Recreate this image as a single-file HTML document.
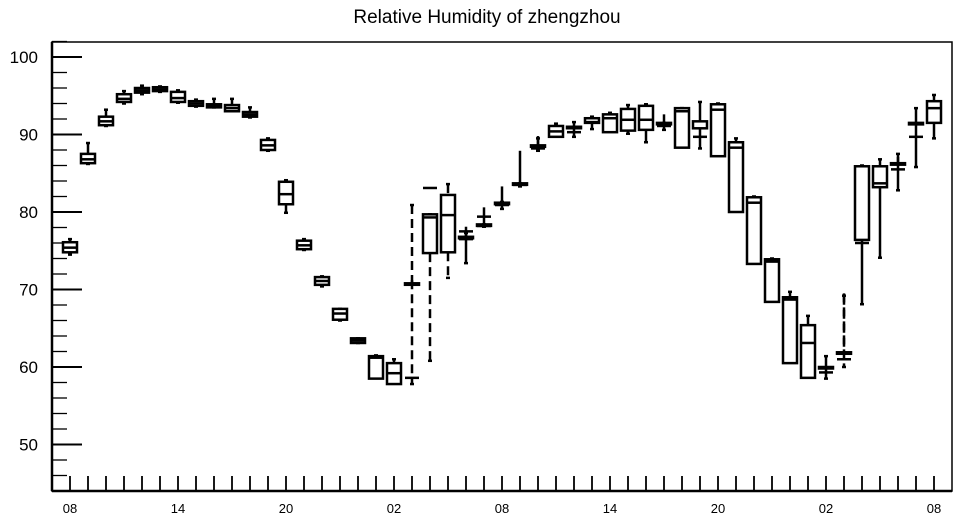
<!DOCTYPE html>
<html><head><meta charset="utf-8"><style>
html,body{margin:0;padding:0;background:#fff;}
svg text{font-family:"Liberation Sans",sans-serif;fill:#000;}
</style></head><body>
<svg id="chart" width="957" height="520" xmlns="http://www.w3.org/2000/svg">
<text x="487" y="23" font-size="19" text-anchor="middle">Relative Humidity of zhengzhou</text>
<g id="axes"></g>
<g id="boxes"></g>
</svg>
<script>
const hourLabels = ["08","14","20","02","08","14","20","02","08"];
const yTickLabels = [50,60,70,80,90,100];
const mins = [74.5,86.2,91.1,94.0,95.2,95.5,94.1,93.6,93.5,93.0,92.2,87.9,79.9,75.1,70.4,66.0,63.1,60.5,58.3,57.8,60.8,71.5,73.4,78.1,80.4,83.3,87.9,89.8,89.7,90.7,91.3,90.1,89.0,90.6,92.6,88.2,90.8,87.2,79.2,72.6,68.4,60.3,58.5,60.0,68.1,74.1,82.8,85.8,89.5];
const q1s = [74.8,86.3,91.2,94.2,95.4,95.6,94.2,93.7,93.5,93.0,92.3,88.0,81.0,75.2,70.6,66.1,63.1,58.5,57.8,71.2,74.7,74.8,78.1,80.6,83.3,87.9,89.8,89.7,91.0,91.5,90.3,90.5,90.6,92.6,88.3,90.8,87.2,80.0,73.3,68.4,60.5,58.6,60.0,69.5,76.4,83.2,87.1,91.5,91.5];
const medians = [75.4,86.8,91.7,94.6,95.7,95.8,94.7,94.0,93.7,93.4,92.6,88.6,82.3,75.7,71.1,66.9,63.4,61.2,59.2,58.6,79.3,79.6,76.5,78.2,80.9,83.5,88.2,90.4,90.3,91.6,92.1,91.9,91.9,91.1,93.0,89.7,93.2,88.3,81.2,73.6,68.7,63.1,59.3,61.0,76.0,83.7,85.5,89.7,93.4];
const q3s = [76.1,87.5,92.3,95.2,96.0,96.1,95.5,94.3,93.9,93.8,92.9,89.3,83.9,76.3,71.6,67.5,63.7,61.4,60.5,70.8,79.7,82.2,76.8,78.4,81.2,83.7,88.6,91.1,91.0,92.1,92.6,93.3,93.7,91.5,93.4,91.7,93.9,89.0,81.9,73.9,69.0,65.4,60.0,61.9,85.9,85.9,86.3,91.5,94.3];
const maxs = [76.5,88.9,93.2,95.6,96.3,96.2,95.7,94.5,94.6,94.6,93.5,89.5,84.1,76.5,71.7,67.5,63.7,61.5,61.0,80.9,79.7,83.6,77.3,78.4,81.3,83.7,89.5,91.4,91.6,92.3,92.8,93.8,93.9,91.5,93.4,94.2,94.0,89.5,82.0,74.0,69.7,66.6,61.4,69.2,86.0,86.8,87.5,93.4,95.1];
const dashedWhisker = [0,0,0,0,0,0,0,0,0,0,0,0,0,0,0,0,0,0,0,1,1,1,0,0,0,0,0,0,0,0,0,0,0,0,0,0,0,0,0,0,0,0,0,1,0,0,0,0,0];
const outlierHours = [20,22,23];
const outlierValues = [83.1,77.5,79.4];

const NS="http://www.w3.org/2000/svg";
const L=52,R=952,T=42,B=491;
function yScale(v){return 57+(100-v)*7.75;}
function xScale(i){return 70+i*18;}
function mk(tag,attrs,parent){const e=document.createElementNS(NS,tag);for(const k in attrs)e.setAttribute(k,attrs[k]);parent.appendChild(e);return e;}
const ax=document.getElementById('axes');
const frame=mk('rect',{x:L,y:T,width:R-L,height:B-T,fill:'none',stroke:'#000','stroke-width':1.5},ax);


mk('line',{x1:L,y1:T,x2:L,y2:B,stroke:'#000','stroke-width':2.5},ax);
mk('line',{x1:L,y1:B,x2:R,y2:B,stroke:'#000','stroke-width':2.5},ax);
for(let v=46;v<=102;v+=2){
  const major=(v%10===0);
  const t=mk('line',{x1:L,y1:yScale(v),x2:L+(major?30:15),y2:yScale(v),stroke:'#000','stroke-width':major?2:1.3},ax);
  
  
}
yTickLabels.forEach(v=>{
  const t=mk('text',{x:38,y:yScale(v)+6,'font-size':17,'text-anchor':'end'},ax);
  t.textContent=v;
  
  
});
for(let i=0;i<mins.length;i++){
  const t=mk('line',{x1:xScale(i),y1:B,x2:xScale(i),y2:B-15,stroke:'#000','stroke-width':1.8},ax);
  
  
}
hourLabels.forEach((s,k)=>{
  const t=mk('text',{x:xScale(k*6),y:513,'font-size':13,'text-anchor':'middle'},ax);
  t.textContent=s;
  
  
});
const bx=document.getElementById('boxes');
const hw=7,cap=4;
for(let i=0;i<mins.length;i++){
  const x=xScale(i);
  const g=mk('g',{},bx);
  
  
  const st={stroke:'#000','stroke-width':2.5,fill:'none'};
  const dash=dashedWhisker[i]?{'stroke-dasharray':'9,5'}:{};
  mk('line',Object.assign({x1:x,y1:yScale(maxs[i]),x2:x,y2:yScale(q3s[i])},st,dash),g);
  mk('line',Object.assign({x1:x,y1:yScale(q1s[i]),x2:x,y2:yScale(mins[i])},st,dash),g);
  mk('line',Object.assign({x1:x-cap/2,y1:yScale(maxs[i]),x2:x+cap/2,y2:yScale(maxs[i])},st),g);
  mk('line',Object.assign({x1:x-cap/2,y1:yScale(mins[i]),x2:x+cap/2,y2:yScale(mins[i])},st),g);
  const top=yScale(q3s[i]),bot=yScale(q1s[i]);
  mk('rect',Object.assign({x:x-hw,y:top,width:2*hw,height:Math.max(bot-top,1.5)},st,{fill:'#fff'}),g);
  mk('line',Object.assign({x1:x-hw,y1:yScale(medians[i]),x2:x+hw,y2:yScale(medians[i])},st),g);
}
outlierHours.forEach((h,k)=>{
  const x=xScale(h),y=yScale(outlierValues[k]);
  const o=mk('line',{x1:x-hw,y1:y,x2:x+hw,y2:y,stroke:'#000','stroke-width':2.5},bx);
  
  
});
</script>
</body></html>
